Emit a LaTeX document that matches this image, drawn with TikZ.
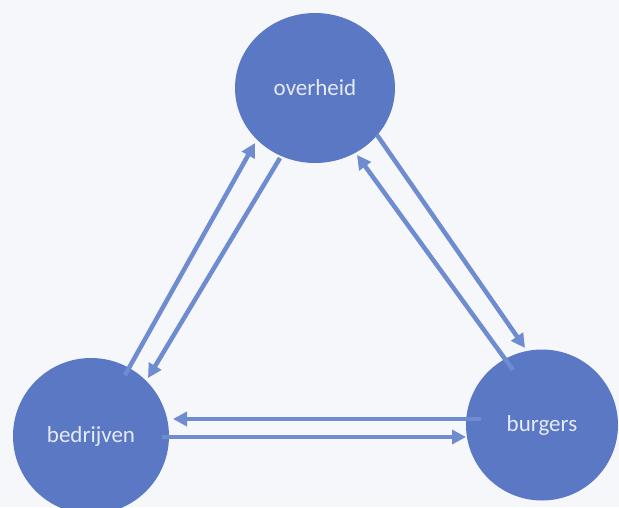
\documentclass[tikz,border=0pt]{standalone}
\usepackage{fontspec}
\setmainfont{Carlito}
\usetikzlibrary{arrows.meta,shapes.geometric}
\definecolor{bgc}{HTML}{F5F7FB}
\definecolor{nodec}{HTML}{5A78C4}
\definecolor{arrc}{HTML}{6F8CD0}
\definecolor{txtc}{HTML}{E6EAF4}
\tikzset{
  actor/.style={ellipse, fill=nodec, draw=none, text=txtc, font=\fontsize{23}{26}\selectfont, inner sep=0pt},
  flow/.style={draw=arrc, line width=4.5pt, -{Triangle[length=14pt,width=14pt]}}
}
\begin{document}
\begin{tikzpicture}[x=1pt,y=-1pt]
\fill[bgc] (0,0) rectangle (619,507);
\useasboundingbox (0,0) rectangle (619,507);
\begin{scope}
\clip (0,0) rectangle (619,507);
\node[actor, minimum width=160pt, minimum height=150pt] (ovh) at (315,88) {overheid};
\node[actor, minimum width=156pt, minimum height=156pt] (bed) at (91,436) {bedrijven};
\node[actor, minimum width=152pt, minimum height=151pt] (bur) at (542,425) {burgers};
\end{scope}
\coordinate (a1s) at (125,375); \coordinate (a1e) at (255,143);
\coordinate (a2s) at (280,158); \coordinate (a2e) at (148,378);
\coordinate (a3s) at (377,135); \coordinate (a3e) at (525,348);
\coordinate (a4s) at (513,370); \coordinate (a4e) at (357,155);
\coordinate (a5s) at (481,419); \coordinate (a5e) at (173,419);
\coordinate (a6s) at (162,437); \coordinate (a6e) at (466,437);
\draw[flow] (a1s) -- (a1e);
\draw[flow] (a2s) -- (a2e);
\draw[flow] (a3s) -- (a3e);
\draw[flow] (a4s) -- (a4e);
\draw[flow] (a5s) -- (a5e);
\draw[flow] (a6s) -- (a6e);
\end{tikzpicture}
\end{document}
